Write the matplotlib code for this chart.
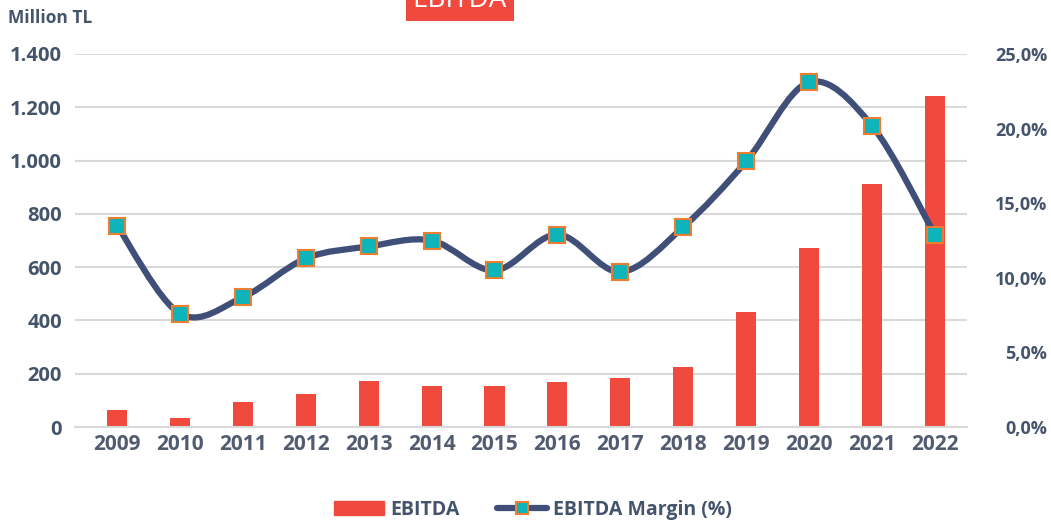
import numpy as np
import matplotlib.pyplot as plt
from matplotlib.path import Path
import matplotlib.patches as patch
from matplotlib.lines import Line2D
from matplotlib.ticker import FuncFormatter

years   = ['2009', '2010', '2011', '2012', '2013', '2014', '2015',
           '2016', '2017', '2018', '2019', '2020', '2021', '2022']
ebitda  = [64, 35, 94, 124, 171, 155, 154, 168, 184, 225, 432, 672, 912, 1243]
margin  = [13.5, 7.6, 8.7, 11.3, 12.1, 12.5, 10.5, 12.9, 10.4, 13.4, 17.8, 23.1, 20.2, 12.9]

txtcol  = '#44546A'
barcol  = '#F04A3E'
lincol  = '#3F4F78'
plt.rcParams['font.family'] = ['Open Sans', 'DejaVu Sans']

fig01 = plt.figure(figsize=(10.51, 5.24), dpi=100)
axs01 = fig01.add_axes([0.0714, 0.185, 0.8486, 0.712])
axs02 = axs01.twinx()

xval = np.arange(len(years))
axs01.bar(xval, ebitda, width=0.32, color=barcol, zorder=2)
axs01.set_ylim(0, 1400)
axs01.set_yticks(np.arange(0, 1401, 200))
axs01.yaxis.set_major_formatter(FuncFormatter(lambda v, p: f'{int(v):,}'.replace(',', '.')))
axs01.set_xlim(-0.668, 13.51)
axs01.set_xticks(xval)
axs01.set_xticklabels(years)
axs01.grid(axis='y', color='#D9D9D9', lw=1.5, zorder=0)
axs01.set_axisbelow(True)

for sp in axs01.spines.values():
    sp.set_visible(False)
for sp in axs02.spines.values():
    sp.set_visible(False)
axs01.spines['bottom'].set_visible(True)
axs01.spines['bottom'].set_color('#D9D9D9')
axs01.spines['bottom'].set_linewidth(1.5)

axs01.tick_params(axis='y', length=0, pad=9.5, labelsize=14.5, labelcolor=txtcol)
axs01.tick_params(axis='x', length=0, pad=5, labelsize=15, labelcolor='#525C70')
for lab in axs01.get_yticklabels() + axs01.get_xticklabels():
    lab.set_fontweight('bold')

# right axis, margin with smoothed line (Bezier through the points)
axs02.set_ylim(0, 25)
axs02.set_yticks(np.arange(0, 26, 5))
axs02.yaxis.set_major_formatter(FuncFormatter(lambda v, p: f'{v:.1f}%'.replace('.', ',')))
axs02.tick_params(axis='y', length=0, pad=58, labelsize=13, labelcolor=txtcol)
for lab in axs02.get_yticklabels():
    lab.set_fontweight('bold')
    lab.set_horizontalalignment('right')

pts = np.column_stack((xval, margin)).astype(float)
verts = [pts[0]]
codes = [Path.MOVETO]
for i in range(len(pts) - 1):
    p0 = pts[max(i - 1, 0)]
    p1 = pts[i]
    p2 = pts[i + 1]
    p3 = pts[min(i + 2, len(pts) - 1)]
    c1 = p1 + (p2 - p0) / 6.0
    c2 = p2 - (p3 - p1) / 6.0
    verts += [c1, c2, p2]
    codes += [Path.CURVE4] * 3
curve = patch.PathPatch(Path(verts, codes), facecolor='none', edgecolor=lincol,
                        lw=4.5, capstyle='round', zorder=3)
axs02.add_patch(curve)
axs02.plot(xval, margin, ls='none', marker='s', ms=11, mfc='#0DB4B9',
           mec='#ED7D31', mew=1.5, zorder=4)

fig01.text(0.008, 0.965, 'Million TL', fontsize=12.5, fontweight='bold',
           color=txtcol, va='center', ha='left')
fig01.text(0.4375, 1.0, 'EBITDA', fontsize=20, color='white', ha='center', va='center',
           bbox=dict(boxstyle='square,pad=0.25', fc='#F04A3E', ec='none'))

hnd = [patch.Patch(color=barcol, label='EBITDA'),
       Line2D([0], [0], color=lincol, lw=4.5, marker='s', ms=9, mfc='#0DB4B9',
              mec='#ED7D31', mew=1.5, solid_capstyle='round', label='EBITDA Margin (%)')]
leg = fig01.legend(handles=hnd, loc='center', bbox_to_anchor=(0.507, 0.027), ncol=2,
                   frameon=False, fontsize=14, handlelength=2.6, handleheight=0.7,
                   handletextpad=0.3, columnspacing=1.9)
for t in leg.get_texts():
    t.set_color(txtcol)
    t.set_fontweight('bold')

plt.savefig('out.png', dpi=100)
plt.close()
